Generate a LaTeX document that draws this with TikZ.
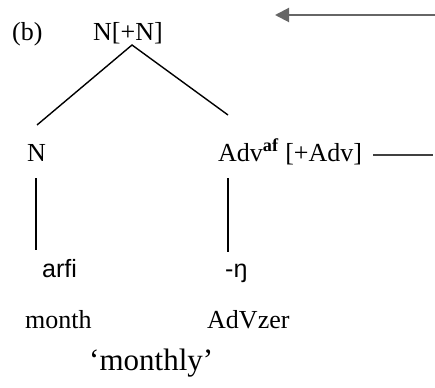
\documentclass[tikz,border=0pt]{standalone}
\usepackage{fontspec}
\setmainfont{Liberation Serif}
\newfontfamily\formfont{Liberation Sans}
\usetikzlibrary{arrows.meta}
\tikzset{
  lbl/.style={inner sep=0pt, anchor=base west, font=\fontsize{26}{30}\selectfont},
  form/.style={inner sep=0pt, anchor=base west, font=\formfont\fontsize{25}{30}\selectfont},
  gloss/.style={inner sep=0pt, anchor=base west, font=\fontsize{31}{36}\selectfont},
  branch/.style={line width=1.4pt, black},
  pointer/.style={line width=2pt, draw=black!60, -{Triangle[length=14pt,width=14pt]}},
  tail/.style={line width=1.4pt, draw=black!75}
}
\begin{document}
\begin{tikzpicture}[x=1pt,y=-1pt]
  \useasboundingbox (0,0) rectangle (435,387);
  % labels of the tree
  \node[lbl] (tag) at (12,41) {(b)};
  \node[lbl] (top) at (93,41) {N[+N]};
  \node[lbl] (n) at (27,161) {N};
  \node[lbl] (adv) at (218,161) {Adv\textsuperscript{\textbf{af}} [+Adv]};
  \node[form] (arfi) at (42,277) {arfi};
  \node[form] (suf) at (225,277) {-ŋ};
  \node[lbl] (month) at (25,328) {month};
  \node[lbl] (advzer) at (207,328) {AdVzer};
  \node[gloss] (monthly) at (89,370) {‘monthly’};
  % branch ends
  \coordinate (apex) at (132,45);
  \coordinate (lend) at (37,125);
  \coordinate (rend) at (228,115);
  \coordinate (lv1) at (36,178);
  \coordinate (lv2) at (36,250);
  \coordinate (rv1) at (228,178);
  \coordinate (rv2) at (228,252);
  \draw[branch] (lend) -- (apex) -- (rend);
  \draw[branch] (lv1) -- (lv2);
  \draw[branch] (rv1) -- (rv2);
  % side pointers
  \coordinate (arrFrom) at (435,15);
  \coordinate (arrTo) at (275,15);
  \draw[pointer] (arrFrom) -- (arrTo);
  \coordinate (tailA) at (373,155);
  \coordinate (tailB) at (433,155);
  \draw[tail] (tailA) -- (tailB);
\end{tikzpicture}
\end{document}
